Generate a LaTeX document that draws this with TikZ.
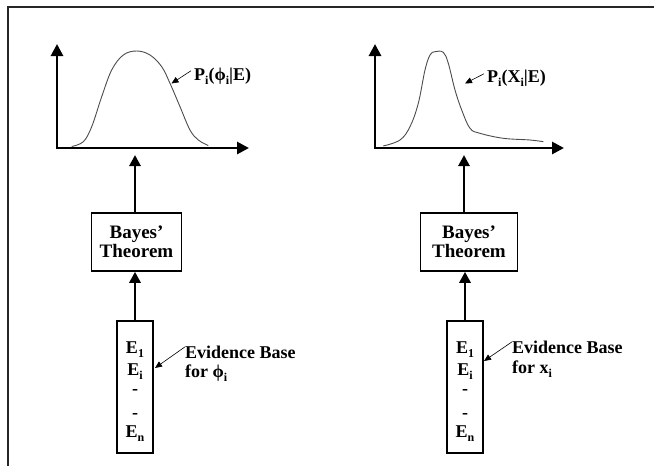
\documentclass[tikz,border=0pt]{standalone}
\usepackage{fontspec}
\setmainfont{Liberation Serif}
\usetikzlibrary{arrows.meta}
\newcommand\mysub[1]{\raisebox{-4pt}{\fontsize{12}{12}\selectfont #1}}
\begin{document}
\begin{tikzpicture}[x=1pt,y=-1pt,
  thickarrow/.style={line width=2.8pt,-{Triangle[width=11pt,length=11pt]}},
  axisline/.style={line width=2.8pt,{Triangle[width=12pt,length=12pt]}-{Triangle[width=12pt,length=12pt]}},
  thinarrow/.style={line width=0.6pt,-{Triangle[width=6pt,length=7pt]}},
  curveline/.style={line width=0.9pt,draw=black!70},
  boxstyle/.style={draw,line width=1.5pt,inner sep=0pt},
  bayesfont/.style={font=\bfseries\fontsize{19}{20}\selectfont},
  evfont/.style={font=\bfseries\fontsize{18}{19}\selectfont,inner sep=0pt},
  plabel/.style={font=\bfseries\fontsize{18}{18}\selectfont,inner sep=0pt,anchor=base west}]
\useasboundingbox (0,0) rectangle (654,466);
% outer frame (partial)
\draw[line width=2pt,black!85] (7.5,466) -- (7.5,6.5) -- (654,6.5);

% ---------- left plot ----------
\coordinate (oL) at (57,148);
\coordinate (yL) at (57,44);
\coordinate (xL) at (249,148);
\draw[axisline] (yL) -- (oL) -- (xL);
\draw[curveline] plot[smooth,tension=0.6] coordinates {(71.7,146.5) (83.3,141.7) (91.7,126.7) (101.7,96.7) (111.7,70) (123.3,55) (136.7,51) (150,55) (161.7,66.7) (170,83.3) (180,106.7) (190,130) (198.3,140) (208.3,145.5)};
\node[plabel] (pL) at (194,80) {P\mysub{i}(ϕ\mysub{i}|E)};
\coordinate (pLtip) at (171.5,83.5);
\draw[thinarrow] (pL.west) ++(-3,-5) coordinate (pLs) -- (pLtip);

% ---------- right plot ----------
\coordinate (oR) at (375,148);
\coordinate (yR) at (375,44);
\coordinate (xR) at (564,148);
\draw[axisline] (yR) -- (oR) -- (xR);
\draw[curveline] plot[smooth,tension=0.6] coordinates {(383.3,146) (400,140) (410,126.7) (418.3,103.3) (425,70) (430,55) (435,51.7) (443.3,52.3) (448.3,63.3) (455,90) (461.7,110) (470,128.3) (480,133.3) (503.3,138.3) (530,140) (543.3,141.7)};
\node[plabel] (pR) at (487,82) {P\mysub{i}(X\mysub{i}|E)};
\coordinate (pRtip) at (465,83.5);
\draw[thinarrow] (pR.west) ++(-3,-4) coordinate (pRs) -- (pRtip);

% ---------- Bayes boxes ----------
\node[boxstyle,bayesfont,minimum width=90pt,minimum height=58pt,align=center] (bL) at (136.5,242) {Bayes’\\[-1pt]Theorem};
\node[boxstyle,bayesfont,minimum width=97pt,minimum height=58pt,align=center] (bR) at (469,242) {Bayes’\\[-1pt]Theorem};

\coordinate (tL) at (135,155);
\coordinate (tR) at (464,155);
\draw[thickarrow] (tL |- bL.north) -- (tL);
\draw[thickarrow] (tR |- bR.north) -- (tR);

% ---------- Evidence boxes ----------
\node[boxstyle,minimum width=36pt,minimum height=132pt] (eL) at (135,387) {};
\node[boxstyle,minimum width=36pt,minimum height=132pt] (eR) at (465,387) {};

\draw[thickarrow] (eL.north) -- (eL.north |- bL.south);
\draw[thickarrow] (eR.north) -- (eR.north |- bR.south);

\foreach \s/\c in {L/135,R/465}{
  \node[evfont,anchor=base] (e1\s) at (\c,353) {E\mysub{1}};
  \node[evfont,anchor=base] (ei\s) at (\c,375) {E\mysub{i}};
  \node[evfont,anchor=base] (d1\s) at (\c,394) {-};
  \node[evfont,anchor=base] (d2\s) at (\c,418) {-};
  \node[evfont,anchor=base] (en\s) at (\c,437) {E\mysub{n}};
}

% evidence labels
\node[evfont,anchor=base west,align=left] (evL) at (185,358) {Evidence Base};
\node[evfont,anchor=base west] (forL) at (185,377) {for ϕ\mysub{i}};
\node[evfont,anchor=base west,align=left] (evR) at (512,353) {Evidence Base};
\node[evfont,anchor=base west] (forR) at (512,373) {for x\mysub{i}};
\coordinate (aL) at (155,368);
\coordinate (aR) at (484,361);
\draw[thinarrow] (evL.west) ++(0,-5) coordinate (sL) -- (aL);
\draw[thinarrow] (evR.west) ++(0,-5) coordinate (sR) -- (aR);
\end{tikzpicture}
\end{document}
